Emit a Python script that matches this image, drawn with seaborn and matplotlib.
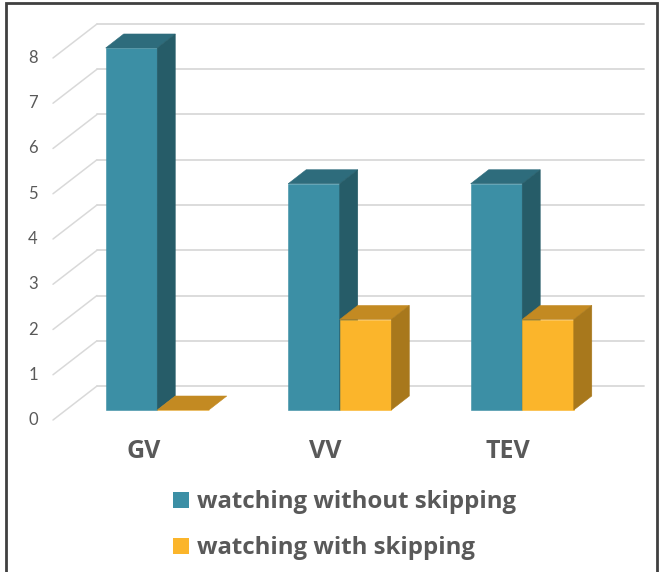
import numpy as np
import pandas as pd
import matplotlib
matplotlib.use('Agg')
from matplotlib import pyplot as plt
from matplotlib.patches import Polygon, Rectangle
import seaborn as sns

categories = ['GV', 'VV', 'TEV']
without_skip = [8, 5, 5]
with_skip = [0, 2, 2]
series = ['watching without skipping', 'watching with skipping']
yticks = [0, 1, 2, 3, 4, 5, 6, 7, 8]

front = {'watching without skipping': '#3C8FA5', 'watching with skipping': '#FBB52B'}
side = {'watching without skipping': '#265C68', 'watching with skipping': '#A8781C'}
top = {'watching without skipping': '#2E6C7C', 'watching with skipping': '#C38A22'}
zo = {'watching without skipping': 3, 'watching with skipping': 4}

df = pd.DataFrame({
    'cat': categories * 2,
    'value': without_skip + with_skip,
    'series': [series[0]] * 3 + [series[1]] * 3,
})

sns.set_style('white')
plt.rcParams['font.family'] = ['Lato', 'DejaVu Sans']

fig = plt.figure(figsize=(6.6, 5.72), dpi=100)
ax = fig.add_axes([0.1, 0.2832, 0.8295, 0.6329])
sns.barplot(data=df, x='cat', y='value', hue='series', palette=front, saturation=1,
            width=0.565, gap=0, ax=ax, legend=False)
ax.set_xlim(-0.5, 2.5)
ax.set_ylim(0, 8)
ax.axis('off')

# pixel -> data conversions
ux = 182.5  # px per category
uy = 45.25  # px per unit
bdx, bdy = 18 / ux, 14 / uy       # bar depth
wdx, wdy = 31 / ux, 24 / uy       # back wall depth
fdx, fdy = 13 / ux, 10 / uy       # floor front edge

grid = '#D9D9D9'
for k in yticks:
    ax.plot([-0.5 + wdx, 2.5 + wdx], [k + wdy, k + wdy], color=grid, lw=1.3,
            clip_on=False, zorder=1)
    ax.plot([-0.5 - fdx, -0.5 + wdx], [k - fdy, k + wdy], color=grid, lw=1.1,
            clip_on=False, zorder=1)
    ax.text(-0.5 - 33 / ux, k - fdy, str(k), ha='center', va='center',
            fontsize=12, color='#595959', clip_on=False)

# 3d faces
for bar, s in zip(ax.patches, df['series']):
    x0 = bar.get_x()
    x1 = x0 + bar.get_width()
    h = bar.get_height()
    bar.set_edgecolor(front[s])
    bar.set_linewidth(0.4)
    bar.set_zorder(zo[s])
    bar.set_clip_on(False)
    ax.add_patch(Polygon([(x0, h), (x1, h), (x1 + bdx, h + bdy), (x0 + bdx, h + bdy)],
                         closed=True, fc=top[s], ec=top[s], lw=0.4, zorder=zo[s],
                         clip_on=False))
    if h > 0:
        ax.add_patch(Polygon([(x1, 0), (x1, h), (x1 + bdx, h + bdy), (x1 + bdx, bdy)],
                             closed=True, fc=side[s], ec=side[s], lw=0.4, zorder=zo[s],
                             clip_on=False))

for i, c in enumerate(categories):
    ax.text(i - 14 / ux, -41 / uy, c, ha='center', va='center', fontsize=18,
            fontweight='bold', family='Open Sans', color='#595959', clip_on=False)

# legend
for j, s in enumerate(series):
    yy = 1 - (500 + 46 * j) / 572
    fig.patches.append(Rectangle((173 / 660, yy - 8 / 572), 16 / 660, 16 / 572,
                                 transform=fig.transFigure, fc=front[s], ec='none'))
    fig.text(197 / 660, yy - 2 / 572, s, ha='left', va='center', fontsize=17.3,
             fontweight='bold', family='Open Sans', color='#595959')

# frame around the image
fig.patches.append(Rectangle((5.5 / 660, -0.01), 651 / 660, 1 - 2.5 / 572 + 0.01,
                             transform=fig.transFigure, fill=False, ec='#404040', lw=2))

fig.savefig('out.png', dpi=100)
